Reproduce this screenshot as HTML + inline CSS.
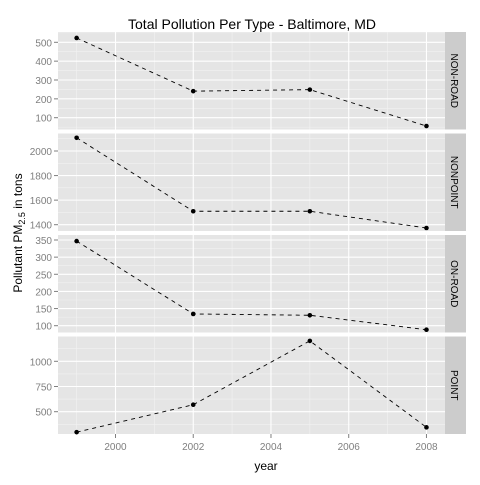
<!DOCTYPE html>
<html><head><meta charset="utf-8"><style>
body{margin:0;background:#fff}
svg text{font-family:"Liberation Sans",sans-serif}
</style></head><body>
<svg id="chart" width="480" height="480" xmlns="http://www.w3.org/2000/svg">
<text x="252" y="29" font-size="14" text-anchor="middle">Total Pollution Per Type - Baltimore, MD</text>
<text x="266" y="470" font-size="12" text-anchor="middle">year</text>
<text transform="translate(22,233) rotate(-90)" font-size="12" text-anchor="middle">Pollutant PM<tspan font-size="9" dy="3">2.5</tspan><tspan dy="-3"> in tons</tspan></text>
</svg>
<script>
const years=[1999,2002,2005,2008];
const types=["NON-ROAD","NONPOINT","ON-ROAD","POINT"];
const nonroad=[522.94,240.85,248.93,55.82];
const nonpoint=[2107.6,1509.5,1509.5,1373.2];
const onroad=[346.82,134.31,130.43,88.28];
const point=[296.8,569.26,1202.49,344.98];
const series=[nonroad,nonpoint,onroad,point];
const yTicks=[[100,200,300,400,500],[1400,1600,1800,2000],[100,150,200,250,300,350],[500,750,1000]];
const xTicks=[2000,2002,2004,2006,2008];
// pixel calibration per panel: [v1,y1,v2,y2]
const cal=[[500,42.3,100,117.7],[2000,151,1400,224.7],[350,240,100,325.7],[1000,361.3,500,411.7]];
const panelTop=[32,133.5,235,336.5],panelH=97.5,L=58,R=445;
const x=v=>115.5+(v-2000)*38.87;
const svg=document.getElementById('chart');
const NS='http://www.w3.org/2000/svg';
function mk(t,a,p){const e=document.createElementNS(NS,t);for(const k in a)e.setAttribute(k,a[k]);(p||svg).appendChild(e);return e;}
for(let i=0;i<4;i++){
  const c=cal[i],top=panelTop[i],bot=top+panelH;
  const y=v=>c[1]+(v-c[0])*(c[3]-c[1])/(c[2]-c[0]);
  const g=mk('g',{});
  
  
  mk('rect',{x:L,y:top,width:R-L,height:panelH,fill:'#e5e5e5'},g);
  const yt=yTicks[i],step=yt[1]-yt[0];
  // minor y grid
  for(let v=yt[0]-step*1.5;v<=yt[yt.length-1]+step*2;v+=step){const yy=y(v);if(yy>top&&yy<bot)mk('line',{x1:L,x2:R,y1:yy,y2:yy,stroke:'#f2f2f2','stroke-width':0.6},g);}
  for(let v=1999;v<=2009;v+=2){const xx=x(v);if(xx>L&&xx<R)mk('line',{x1:xx,x2:xx,y1:top,y2:bot,stroke:'#f2f2f2','stroke-width':0.6},g);}
  yt.forEach(v=>{const yy=y(v);mk('line',{x1:L,x2:R,y1:yy,y2:yy,stroke:'#fff','stroke-width':1.1},g);
    mk('line',{x1:L-4,x2:L,y1:yy,y2:yy,stroke:'#7f7f7f'},g);
    const t=mk('text',{x:L-6,y:yy+4,'font-size':10,fill:'#7f7f7f','text-anchor':'end'},g);t.textContent=v;
    
    });
  xTicks.forEach(v=>{const xx=x(v);mk('line',{x1:xx,x2:xx,y1:top,y2:bot,stroke:'#fff','stroke-width':1.1},g);});
  // strip
  const s=mk('rect',{x:R,y:top,width:21,height:panelH,fill:'#cccccc'},g);
  
  
  const st=mk('text',{transform:`translate(451,${top+panelH/2}) rotate(90)`,'font-size':10,'text-anchor':'middle'},g);st.textContent=types[i];
  
  
  const d=series[i].map((v,j)=>(j?'L':'M')+x(years[j])+','+y(v)).join('');
  const ln=mk('path',{d:d,fill:'none',stroke:'#000','stroke-width':0.9,'stroke-dasharray':'4,4'},g);
  
  
  series[i].forEach((v,j)=>{const p=mk('circle',{cx:x(years[j]),cy:y(v),r:2.3,fill:'#000'},g);
    
    });
}
xTicks.forEach(v=>{const xx=x(v);mk('line',{x1:xx,x2:xx,y1:434,y2:438,stroke:'#7f7f7f'});
  const t=mk('text',{x:xx,y:450,'font-size':10,fill:'#7f7f7f','text-anchor':'middle'});t.textContent=v;
  
  });
</script>
</body></html>
